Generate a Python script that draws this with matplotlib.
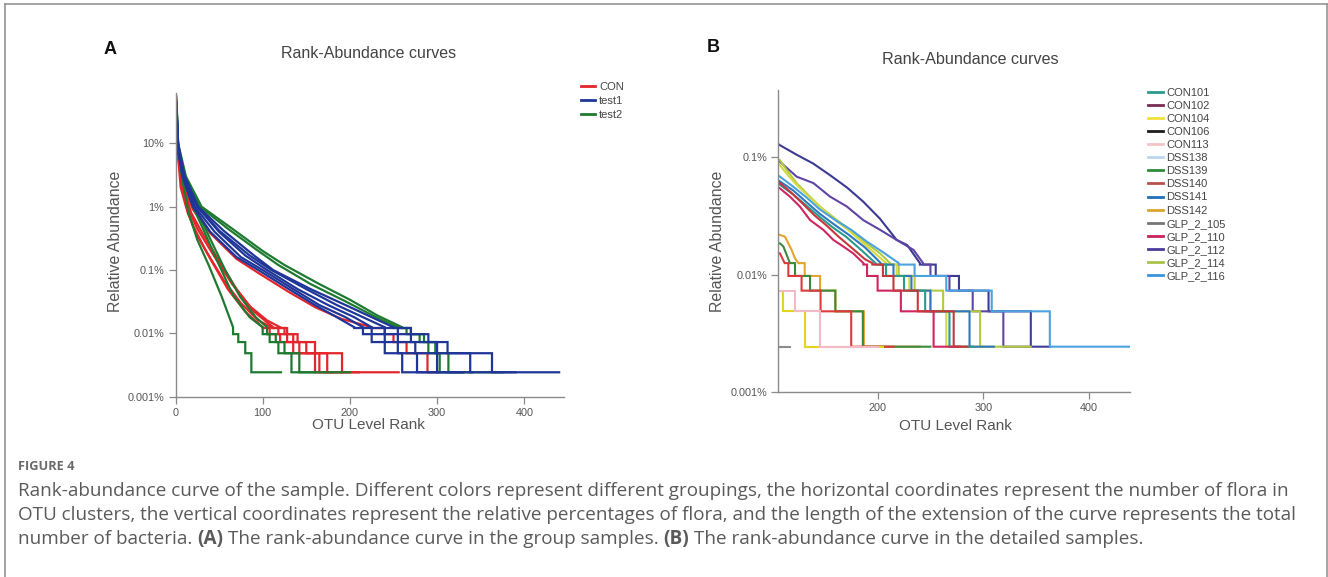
import matplotlib
matplotlib.use("Agg")
import matplotlib.pyplot as plt
from matplotlib.lines import Line2D
from matplotlib.ticker import NullLocator

W, H = 1328, 577
UNIT = 0.00243  # % abundance of a single read (floor level of every curve)

# ---- panel A : group colours, each curve = (head ranks, head abundance %, rank where level n..1 ends)
a_groups = ["CON", "test1", "test2"]
a_colors = ["#e3262c", "#1f3597", "#1f7a31"]

a_con = [
    ([1, 3, 6, 12, 20, 35, 55, 75, 95, 110], [30, 6, 2, 1.0, 0.5, 0.2, 0.07, 0.03, 0.016, 0.0125], [118, 128, 142, 174, 256]),
    ([1, 3, 8, 15, 25, 45, 65, 85, 105, 120], [40, 7, 2.2, 0.9, 0.45, 0.16, 0.06, 0.027, 0.016, 0.0125], [128, 140, 160, 191, 210]),
    ([1, 3, 8, 20, 40, 70, 95, 130, 160, 190, 225], [30, 7, 2.5, 0.9, 0.38, 0.15, 0.09, 0.045, 0.026, 0.017, 0.0125], [240, 250, 265, 289, 300]),
    ([1, 3, 8, 14, 25, 40, 60, 80, 100], [25, 6, 2, 0.8, 0.35, 0.15, 0.05, 0.022, 0.0125], [108, 120, 135, 160, 180]),
    ([1, 3, 8, 18, 30, 50, 70, 90, 112], [35, 7, 2.4, 0.8, 0.4, 0.14, 0.05, 0.022, 0.0125], [125, 135, 150, 165, 190]),
]
a_test1 = [
    ([1, 3, 8, 20, 40, 70, 95, 130, 160, 185, 205], [30, 8, 3, 1.0, 0.4, 0.16, 0.1, 0.05, 0.028, 0.018, 0.0125], [215, 225, 240, 260, 300]),
    ([1, 3, 8, 22, 45, 75, 100, 135, 165, 195, 215], [35, 9, 3.2, 1.0, 0.4, 0.16, 0.1, 0.05, 0.028, 0.018, 0.0125], [225, 240, 255, 277, 330]),
    ([1, 3, 10, 25, 50, 80, 105, 140, 175, 205, 225], [40, 9, 3, 1.0, 0.4, 0.17, 0.1, 0.05, 0.028, 0.018, 0.0125], [240, 255, 275, 300, 340]),
    ([1, 3, 10, 25, 50, 85, 110, 150, 185, 215, 240], [25, 7, 2.8, 1.0, 0.42, 0.17, 0.1, 0.05, 0.028, 0.018, 0.0125], [255, 270, 300, 338, 390]),
    ([1, 3, 10, 26, 55, 90, 112, 155, 195, 225, 250], [45, 10, 3.2, 1.0, 0.42, 0.17, 0.1, 0.05, 0.028, 0.018, 0.0125], [270, 290, 312, 363, 440]),
]
a_test2 = [
    ([1, 3, 8, 15, 25, 38, 53, 66], [50, 9, 2.6, 0.8, 0.3, 0.12, 0.038, 0.0125], [72, 80, 87, 121]),
    ([1, 3, 8, 20, 35, 50, 66, 85, 100], [35, 9, 3, 1.0, 0.35, 0.12, 0.04, 0.018, 0.0125], [108, 118, 133, 200]),
    ([1, 3, 8, 22, 38, 57, 74, 92, 105], [45, 10, 3.2, 1.0, 0.35, 0.1, 0.038, 0.018, 0.0125], [115, 125, 142, 160]),
    ([1, 3, 10, 28, 60, 95, 118, 155, 195, 230, 255], [30, 8, 3, 1.0, 0.45, 0.2, 0.12, 0.06, 0.032, 0.018, 0.0125], [265, 280, 290, 303, 330]),
    ([1, 3, 12, 30, 65, 100, 125, 165, 200, 232, 260], [55, 10, 3, 1.0, 0.45, 0.2, 0.12, 0.06, 0.034, 0.019, 0.0125], [270, 285, 298, 313, 376]),
]

# ---- panel B : legend of samples and the curves as they appear (colour, head ranks, head %, level ends)
b_samples = ["CON101", "CON102", "CON104", "CON106", "CON113", "DSS138", "DSS139", "DSS140",
             "DSS141", "DSS142", "GLP_2_105", "GLP_2_110", "GLP_2_112", "GLP_2_114", "GLP_2_116"]
b_legend_colors = ["#2a9a8c", "#7a2a55", "#f0e03a", "#1c1c1c", "#f4c4c8", "#bcd6ea", "#2f8a3e", "#b8524e",
                   "#1f70b4", "#d9a532", "#777777", "#c8245c", "#4a3c9e", "#a8c34a", "#3b93d9"]

b_curves = [
    ("#3b3b94", [100, 107.6, 123, 139, 155, 171, 186, 202, 218, 228, 240], [0.14, 0.126, 0.105, 0.088, 0.07, 0.055, 0.042, 0.03, 0.0197, 0.0178, 0.0125], [255, 277, 305, 345, 363]),
    ("#5e45a6", [100, 107.6, 123.4, 139.2, 155, 170.7, 186.5, 202.3, 218, 234, 243], [0.1, 0.091, 0.068, 0.06, 0.046, 0.038, 0.029, 0.024, 0.0197, 0.0162, 0.0125], [250, 268, 290, 319, 345]),
    ("#b2cb3e", [100, 107.6, 113.9, 123.4, 132.9, 145.5, 161.3, 173.9, 189.7, 202.3, 211.8], [0.1, 0.094, 0.0775, 0.0597, 0.049, 0.0378, 0.0291, 0.024, 0.0184, 0.0151, 0.0125], [220, 235, 262, 297, 345]),
    ("#d4da44", [100, 107.6, 115, 125, 135, 148, 160, 172, 185, 198, 208], [0.095, 0.085, 0.07, 0.056, 0.046, 0.036, 0.029, 0.024, 0.019, 0.015, 0.0125], [218, 230, 250, 265, 300]),
    ("#4aa3de", [100, 107.6, 120, 133, 145, 160, 175, 190, 205, 220], [0.075, 0.068, 0.056, 0.045, 0.036, 0.029, 0.024, 0.019, 0.0155, 0.0125], [235, 265, 308, 363, 439]),
    ("#2f78bf", [100, 107.6, 120, 133, 145, 158, 172, 188, 203], [0.07, 0.062, 0.052, 0.041, 0.033, 0.027, 0.022, 0.017, 0.0125], [215, 232, 250, 287, 310]),
    ("#2a9a8c", [100, 107.6, 120, 132, 145, 158, 170, 185, 198], [0.066, 0.058, 0.048, 0.039, 0.031, 0.025, 0.021, 0.016, 0.0125], [208, 225, 245, 268, 290]),
    ("#cf2660", [100, 107.6, 117, 126.5, 136, 148.6, 158.1, 167.6, 177, 186.5], [0.06, 0.054, 0.046, 0.0378, 0.0291, 0.024, 0.0197, 0.0173, 0.0151, 0.0125], [190, 200, 222, 253, 278]),
    ("#c9363a", [100, 107.6, 118, 128, 140, 152, 163, 175, 188, 195], [0.066, 0.06, 0.05, 0.041, 0.032, 0.026, 0.021, 0.017, 0.0135, 0.0125], [205, 215, 238, 272, 285]),
    ("#e6a32e", [100, 107.6, 112.3, 115.5, 118.6, 121.8, 125, 131], [0.023, 0.0217, 0.021, 0.0184, 0.0162, 0.0137, 0.0125, 0.0125], [145.5, 160, 187, 240]),
    ("#3b8a3c", [100, 107.6, 110.8, 113.9, 117, 121.8], [0.019, 0.0184, 0.0173, 0.0147, 0.0125, 0.0125], [136, 160, 186, 250]),
    ("#dd3b3b", [100, 107.6, 112, 115.5], [0.016, 0.0151, 0.0125, 0.0125], [128, 146, 175, 215]),
    ("#e3d322", [100], [0.0073], [110.8, 131, 205]),
    ("#f2b9c8", [100], [0.0073], [121.8, 145.5, 200]),
    ("#8c8c8c", [100], [0.00243], [117]),
]

caption_head = "FIGURE 4"
caption_lines = [
    "Rank-abundance curve of the sample. Different colors represent different groupings, the horizontal coordinates represent the number of flora in",
    "OTU clusters, the vertical coordinates represent the relative percentages of flora, and the length of the extension of the curve represents the total",
]
caption_last = [("number of bacteria.", "normal"), ("(A)", "bold"), ("The rank-abundance curve in the group samples.", "normal"),
                ("(B)", "bold"), ("The rank-abundance curve in the detailed samples.", "normal")]


def staircase(ranks, pct, ends):
    xs, ys = list(ranks), list(pct)
    n = len(ends)
    for i, e in enumerate(ends):
        lev = (n - i) * UNIT
        xs += [xs[-1], e]
        ys += [lev, lev]
    return xs, ys


def fx(x):
    return x / W


def fy(y):
    return 1 - y / H


def style_axes(ax, xticks, yticks, ylabels):
    ax.set_yscale("log")
    for s in ["top", "right"]:
        ax.spines[s].set_visible(False)
    for s in ["left", "bottom"]:
        ax.spines[s].set_color("#8a8a8a")
        ax.spines[s].set_linewidth(1.0)
    ax.set_xticks(xticks)
    ax.set_xticklabels([str(v) for v in xticks])
    ax.set_yticks(yticks)
    ax.set_yticklabels(ylabels)
    ax.yaxis.set_minor_locator(NullLocator())
    ax.tick_params(length=5, width=0.9, color="#8a8a8a", labelsize=7.8, labelcolor="#555555", pad=3)


plt.rcParams["font.family"] = ["Liberation Sans", "DejaVu Sans"]
fig = plt.figure(figsize=(W / 100, H / 100), dpi=100)

# ---------------- panel A
axA = fig.add_axes([fx(175.5), fy(396.7), fx(563.5) - fx(175.5), fy(93.2) - fy(396.7)])
for curves, col in [(a_con, a_colors[0]), (a_test2, a_colors[2]), (a_test1, a_colors[1])]:
    for r, p, e in curves:
        xs, ys = staircase(r, p, e)
        axA.plot(xs, ys, color=col, lw=1.6, solid_joinstyle="miter")
style_axes(axA, [0, 100, 200, 300, 400], [10, 1, 0.1, 0.01, 0.001],
           ["10%", "1%", "0.1%", "0.01%", "0.001%"])
axA.set_xlim(0, 445)
axA.set_ylim(0.001, 62)

hA = [Line2D([], [], color=c, lw=2) for c in a_colors]
fig.legend(hA, a_groups, loc="upper left", bbox_to_anchor=(fx(575), fy(76)), frameon=False,
           fontsize=8, handlelength=1.3, handletextpad=0.35, labelspacing=0.38, borderpad=0,
           labelcolor="#444444")

fig.text(fx(110), fy(50), "A", fontsize=13, fontweight="bold", ha="center", va="center", color="#111111")
fig.text(fx(369), fy(53), "Rank-Abundance curves", fontsize=11.5, ha="center", va="center", color="#444444")
fig.text(fx(116), fy(241), "Relative Abundance", fontsize=11.4, rotation=90, ha="center", va="center", color="#555555")
fig.text(fx(368), fy(425), "OTU Level Rank", fontsize=11, ha="center", va="center", color="#555555")

# ---------------- panel B
axB = fig.add_axes([fx(778), fy(392), fx(1130) - fx(778), fy(89.7) - fy(392)])
for col, r, p, e in b_curves:
    xs, ys = staircase(r, p, e)
    axB.plot(xs, ys, color=col, lw=1.5, solid_joinstyle="miter")
style_axes(axB, [200, 300, 400], [0.1, 0.01, 0.001], ["0.1%", "0.01%", "0.001%"])
axB.set_xlim(105.7, 438.9)
axB.set_ylim(0.001, 0.374)

hB = [Line2D([], [], color=c, lw=2) for c in b_legend_colors]
fig.legend(hB, b_samples, loc="upper left", bbox_to_anchor=(fx(1142), fy(82)), frameon=False,
           fontsize=8, handlelength=1.4, handletextpad=0.3, labelspacing=0.28, borderpad=0,
           labelcolor="#444444")

fig.text(fx(713), fy(48), "B", fontsize=13, fontweight="bold", ha="center", va="center", color="#111111")
fig.text(fx(970), fy(60), "Rank-Abundance curves", fontsize=11.6, ha="center", va="center", color="#444444")
fig.text(fx(718), fy(241), "Relative Abundance", fontsize=11.4, rotation=90, ha="center", va="center", color="#555555")
fig.text(fx(955), fy(426), "OTU Level Rank", fontsize=11, ha="center", va="center", color="#555555")

# ---------------- frame + caption
for xs, ys in [([4.5, 4.5], [577, 3.5]), ([4.5, 1326.5], [3.5, 3.5]), ([1326.5, 1326.5], [3.5, 577])]:
    fig.add_artist(Line2D([fx(v) for v in xs], [fy(v) for v in ys], color="#8c8c8c", lw=1.1))

cap = dict(fontsize=13.6, color="#5a5a5a", family="Open Sans", va="center", ha="left")
fig.text(fx(18), fy(467), caption_head, fontsize=9.2, fontweight="bold", color="#6a6a6a",
         family="Open Sans", va="center", ha="left")
for i, line in enumerate(caption_lines):
    fig.text(fx(18), fy(491 + 24 * i), line, **cap)

rend = fig.canvas.get_renderer()


def width_of(s, weight):
    t = fig.text(0, 0, s, fontweight=weight, **cap)
    w = t.get_window_extent(rend).width
    t.remove()
    return w


space = width_of("a a", "normal") - width_of("aa", "normal")
x = 18.0
for s, wt in caption_last:
    t = fig.text(fx(x), fy(539), s, fontweight=wt, **cap)
    x += t.get_window_extent(rend).width + space

fig.savefig("out.png", dpi=100)
